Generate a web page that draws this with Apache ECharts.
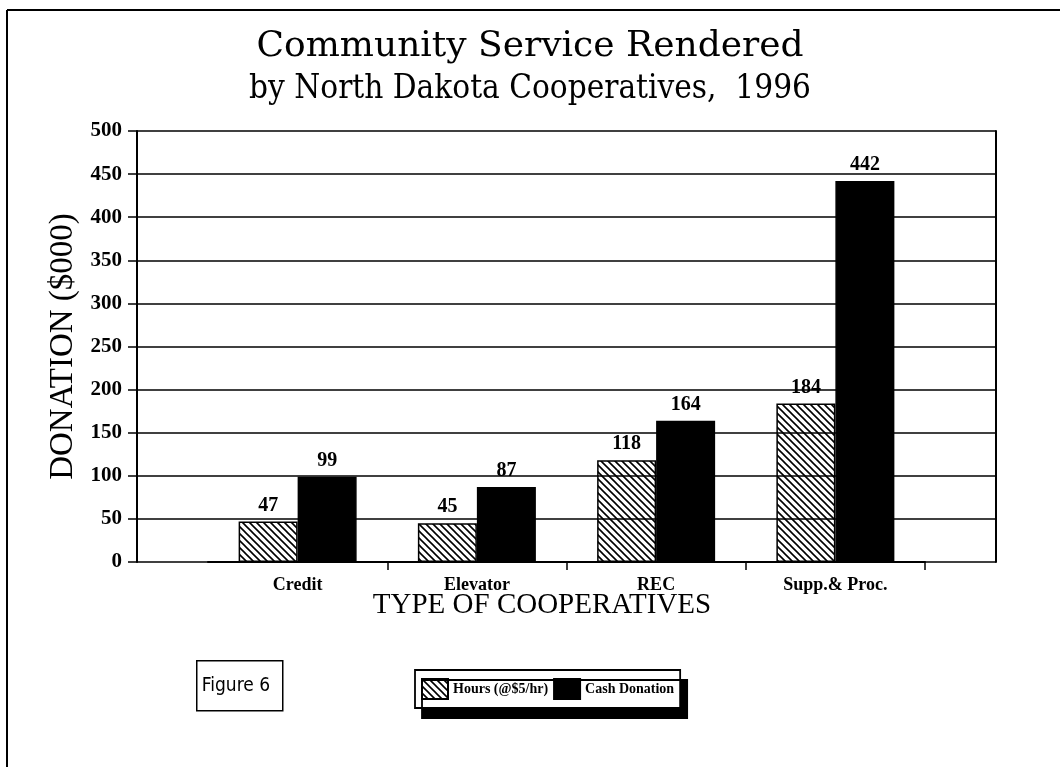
<!DOCTYPE html>
<html>
<head>
<meta charset="utf-8">
<title>Community Service Rendered</title>
<script src="https://cdn.jsdelivr.net/npm/echarts@6/dist/echarts.min.js"></script>
<style>
  html, body { margin: 0; padding: 0; background: #fff; }
  #chart { width: 1060px; height: 767px; }
</style>
</head>
<body>
<div id="chart"></div>
<script>
// Community service rendered by North Dakota cooperatives, 1996 ($000)
const categories = ['Credit', 'Elevator', 'REC', 'Supp.& Proc.'];
const hoursValues = [47, 45, 118, 184];   // Hours (@$5/hr)
const cashValues = [99, 87, 164, 442];    // Cash Donation
const seriesNames = ['Hours (@$5/hr)', 'Cash Donation'];
const yMin = 0, yMax = 500, yStep = 50;

const SERIF = "'Liberation Serif', 'Times New Roman', serif";
const SLAB = "'DejaVu Serif', serif";

// Diagonal hatch tile ("\\\\") used to fill the Hours bars
function hatchTile() {
  const s = 7;
  const c = document.createElement('canvas');
  c.width = s; c.height = s;
  const g = c.getContext('2d');
  g.strokeStyle = '#000';
  g.lineWidth = 1.6;
  g.beginPath();
  g.moveTo(-1, -1); g.lineTo(s + 1, s + 1);
  g.moveTo(-1, s - 1); g.lineTo(1, s + 1);
  g.moveTo(s - 1, -1); g.lineTo(s + 1, 1);
  g.stroke();
  return c;
}
const hatch = { image: hatchTile(), repeat: 'repeat' };

const chart = echarts.init(document.getElementById('chart'), null, { renderer: 'canvas' });

const valueLabel = {
  show: true,
  position: 'top',
  distance: 6,
  color: '#000',
  fontFamily: SERIF,
  fontWeight: 'bold',
  fontSize: 20
};

chart.setOption({
  animation: false,
  backgroundColor: '#fff',
  title: [
    {
      text: 'Community Service Rendered',
      left: 'center',
      top: 24,
      textStyle: { fontFamily: SLAB, fontWeight: 'normal', fontSize: 36, color: '#000' }
    },
    {
      text: 'by North Dakota Cooperatives,  1996',
      left: 'center',
      top: 68,
      textStyle: { fontFamily: "'DejaVu Serif Condensed', 'DejaVu Serif', serif", fontWeight: 'normal', fontSize: 33, color: '#000' }
    }
  ],
  legend: {
    data: seriesNames,
    left: 415,
    top: 670,
    orient: 'horizontal',
    icon: 'rect',
    itemWidth: 26,
    itemHeight: 20,
    itemGap: 5,
    padding: [8, 6, 8, 6],
    backgroundColor: '#fff',
    borderColor: '#000',
    borderWidth: 1.8,
    shadowColor: '#000',
    shadowBlur: 0,
    shadowOffsetX: 7,
    shadowOffsetY: 10,
    selectedMode: false,
    textStyle: {
      fontFamily: SERIF,
      fontWeight: 'bold',
      fontSize: 14,
      color: '#000'
    }
  },
  grid: [
    // frame grid: value axis, gridlines and right border
    { left: 137, right: 64, top: 131, bottom: 205 },
    // bar grid: the four cooperative groups
    { left: 208, right: 135, top: 131, bottom: 205 }
  ],
  xAxis: [
    {
      gridIndex: 0,
      type: 'value',
      min: 0, max: 1,
      axisLine: { show: false },
      axisTick: { show: false },
      axisLabel: { show: false },
      splitLine: { show: false }
    },
    {
      gridIndex: 1,
      type: 'category',
      data: categories,
      boundaryGap: true,
      axisLine: { show: true, lineStyle: { color: '#000', width: 2 } },
      axisTick: {
        show: true,
        inside: false,
        length: 8,
        interval: function (index) { return index >= 1 && index <= 3; },
        lineStyle: { color: '#000', width: 1.5 }
      },
      axisLabel: {
        margin: 14,
        color: '#000',
        fontFamily: SERIF,
        fontWeight: 'bold',
        fontSize: 18
      }
    }
  ],
  yAxis: [
    {
      gridIndex: 0,
      type: 'value',
      min: yMin, max: yMax, interval: yStep,
      name: 'DONATION ($000)',
      nameLocation: 'middle',
      nameRotate: 90,
      nameGap: 56,
      nameTextStyle: { fontFamily: SERIF, fontSize: 33, color: '#000' },
      axisLine: { show: true, lineStyle: { color: '#000', width: 2 } },
      axisTick: { show: true, length: 9, lineStyle: { color: '#000', width: 1.5 } },
      axisLabel: {
        margin: 15,
        color: '#000',
        fontFamily: SERIF,
        fontWeight: 'bold',
        fontSize: 21
      },
      splitLine: { show: true, lineStyle: { color: '#000', width: 1.6 } }
    },
    {
      gridIndex: 0,
      type: 'value',
      position: 'right',
      min: yMin, max: yMax, interval: yStep,
      axisLine: { show: true, lineStyle: { color: '#000', width: 2 } },
      axisTick: { show: false },
      axisLabel: { show: false },
      splitLine: { show: false }
    },
    {
      gridIndex: 1,
      type: 'value',
      min: yMin, max: yMax, interval: yStep,
      axisLine: { show: false },
      axisTick: { show: false },
      axisLabel: { show: false },
      splitLine: { show: false }
    }
  ],
  series: [
    {
      name: seriesNames[0],
      type: 'bar',
      xAxisIndex: 1,
      yAxisIndex: 2,
      data: hoursValues,
      barWidth: 59,
      barGap: '0%',
      itemStyle: { color: hatch, borderColor: '#000', borderWidth: 1.5 },
      label: valueLabel
    },
    {
      name: seriesNames[1],
      type: 'bar',
      xAxisIndex: 1,
      yAxisIndex: 2,
      data: cashValues,
      barWidth: 59,
      barGap: '0%',
      itemStyle: { color: '#000', borderColor: '#000', borderWidth: 1.5 },
      label: valueLabel
    }
  ],
  graphic: [
    // page frame (top and left rules)
    { type: 'line', shape: { x1: 7, y1: 10, x2: 1060, y2: 10 }, style: { stroke: '#000', lineWidth: 2 } },
    { type: 'line', shape: { x1: 7, y1: 10, x2: 7, y2: 767 }, style: { stroke: '#000', lineWidth: 2 } },
    // category axis title
    {
      type: 'text',
      x: 542, y: 605,
      style: {
        text: 'TYPE OF COOPERATIVES',
        fill: '#000',
        font: "29px 'Liberation Serif', serif",
        textAlign: 'center',
        textVerticalAlign: 'middle'
      }
    },
    // figure tag
    {
      type: 'group',
      left: 196, top: 660,
      children: [
        { type: 'rect', shape: { x: 0, y: 0, width: 86, height: 50 }, style: { fill: '#fff', stroke: '#000', lineWidth: 1.5 } },
        {
          type: 'text', x: 5, y: 25,
          style: {
            text: 'Figure 6', fill: '#000',
            font: "19px 'DejaVu Sans Condensed', 'DejaVu Sans', sans-serif",
            textVerticalAlign: 'middle'
          }
        }
      ]
    }
  ]
});
</script>
</body>
</html>
